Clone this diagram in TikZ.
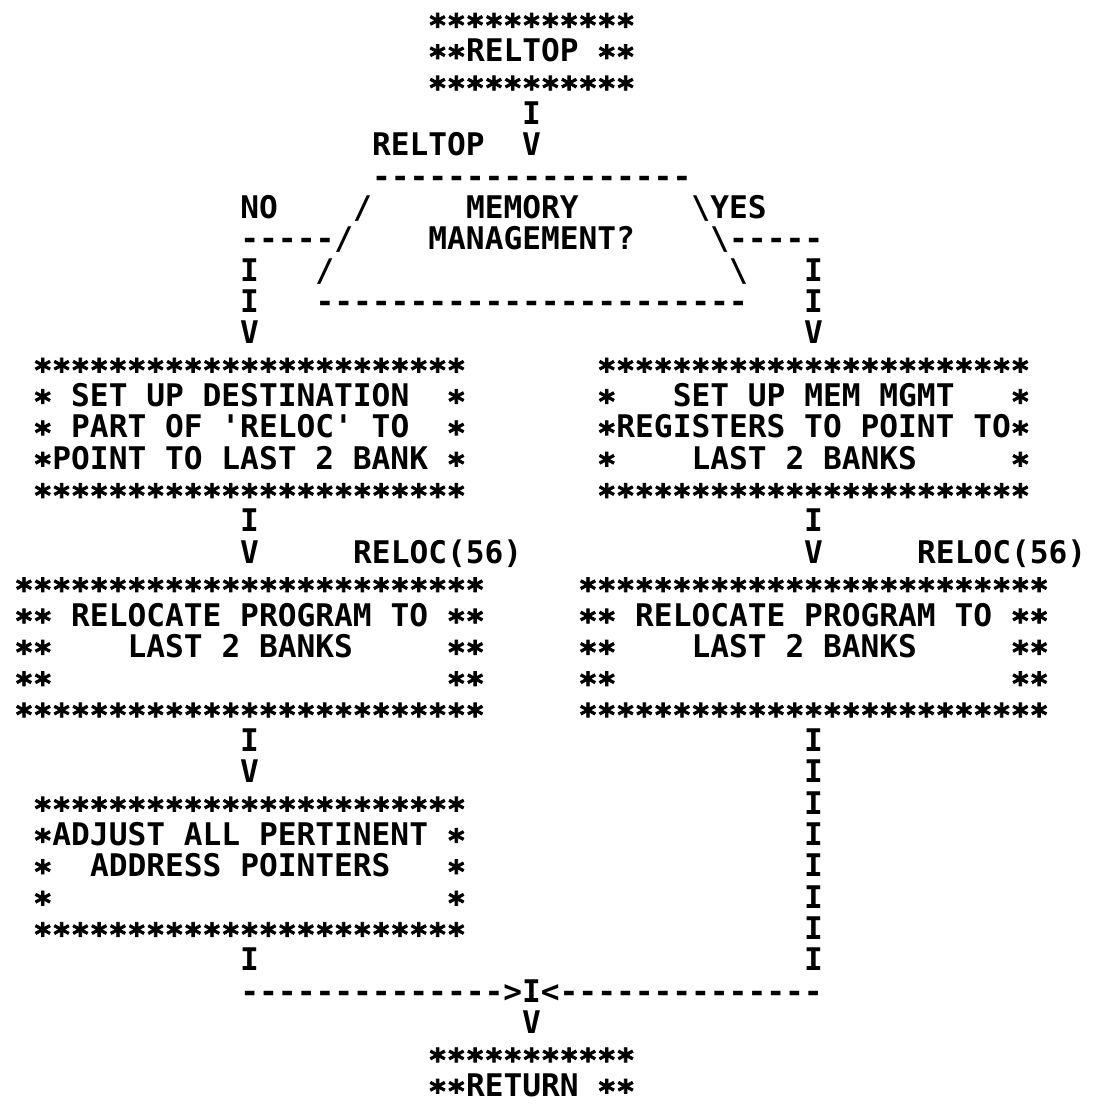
\documentclass[tikz,border=0pt]{standalone}
\usepackage{fontspec}
\newfontfamily\plotter{DejaVu Sans Mono}[Ligatures=TeXOff]
\newfontfamily\plotterast{DejaVu Sans Mono Bold}[FakeBold=2.5]
\begin{document}
\begin{tikzpicture}[x=18.8pt,y=-31.35pt,
    chr/.style={font=\plotter\bfseries\fontsize{31.2}{31.35}\selectfont,inner sep=0pt,text height=22.8pt,text depth=0pt},
    txt/.style={chr,anchor=west,xshift=-9.4pt},
    ast/.style={chr,font=\plotterast\fontsize{31.2}{31.35}\selectfont,yshift=-5.9pt}]
  \useasboundingbox (-1.277,-0.606) rectangle (56.968,34.833);

  % star frames: first col/last col/top row/bottom row/side width/name
  \foreach \a/\b/\t/\u/\w/\n in {22/32/0/2/2/reltop,1/23/11/15/1/dest,31/53/11/15/1/mmu,0/24/18/22/2/rl,30/54/18/22/2/rr,1/23/25/29/1/adj}{
    \foreach \c in {\a,...,\b}{
      \node[ast] (\n-t\c) at (\c,\t) {*};
      \node[ast] (\n-b\c) at (\c,\u) {*};
    }
    \pgfmathtruncatemacro\ta{\t+1}
    \pgfmathtruncatemacro\ua{\u-1}
    \foreach \r in {\ta,...,\ua}
      \foreach \k in {1,...,\w}{
        \node[ast] (\n-l\r-\k) at ({\a+\k-1},\r) {*};
        \node[ast] (\n-r\r-\k) at ({\b-\k+1},\r) {*};
      }
  }
  \foreach \c in {22,...,32} \node[ast] (ret-t\c) at (\c,33) {*};
  \foreach \c in {22,23,31,32} \node[ast] (ret-s\c) at (\c,34) {*};

  % box texts
  \node[txt] (reltop-txt) at (24,1) {RELTOP};
  \node[txt] (dest1) at (3,12) {SET UP DESTINATION};
  \node[txt] (dest2) at (3,13) {PART OF 'RELOC' TO};
  \node[txt] (dest3) at (2,14) {POINT TO LAST 2 BANK};
  \node[txt] (mmu1) at (35,12) {SET UP MEM MGMT};
  \node[txt] (mmu2) at (32,13) {REGISTERS TO POINT TO};
  \node[txt] (mmu3) at (36,14) {LAST 2 BANKS};
  \node[txt] (rl1) at (3,19) {RELOCATE PROGRAM TO};
  \node[txt] (rl2) at (6,20) {LAST 2 BANKS};
  \node[txt] (rr1) at (33,19) {RELOCATE PROGRAM TO};
  \node[txt] (rr2) at (36,20) {LAST 2 BANKS};
  \node[txt] (adj1) at (2,26) {ADJUST ALL PERTINENT};
  \node[txt] (adj2) at (4,27) {ADDRESS POINTERS};
  \node[txt] (ret-txt) at (24,34) {RETURN};

  % decision
  \node[chr] (in-i) at (27,3) {I};
  \node[chr] (in-v) at (27,4) {V};
  \node[txt] (in-lbl) at (19,4) {RELTOP};
  \node[txt] (dia-top) at (19,5) {-----------------};
  \node[txt] (no) at (12,6) {NO};
  \node[chr] (dia-l1) at (18,6) {/};
  \node[txt] (q1) at (24,6) {MEMORY};
  \node[chr] (dia-r1) at (36,6) {\textbackslash};
  \node[txt] (yes) at (37,6) {YES};
  \node[txt] (no-line) at (12,7) {-----/};
  \node[txt] (q2) at (22,7) {MANAGEMENT?};
  \node[txt] (yes-line) at (37,7) {\textbackslash-----};
  \node[chr] (dia-l3) at (16,8) {/};
  \node[chr] (dia-r3) at (38,8) {\textbackslash};
  \node[txt] (dia-bot) at (16,9) {-----------------------};

  % flow lines
  \foreach \r/\s in {8/I,9/I,10/V,16/I,17/V,23/I,24/V,30/I}
    \node[chr] (left-\r) at (12,\r) {\s};
  \foreach \r/\s in {8/I,9/I,10/V,16/I,17/V,23/I,24/I,25/I,26/I,27/I,28/I,29/I,30/I}
    \node[chr] (right-\r) at (42,\r) {\s};
  \node[txt] (reloc-l) at (18,17) {RELOC(56)};
  \node[txt] (reloc-r) at (48,17) {RELOC(56)};
  \node[txt] (join) at (12,31) {-------------->I<--------------};
  \node[chr] (out-v) at (27,32) {V};
\end{tikzpicture}
\end{document}
